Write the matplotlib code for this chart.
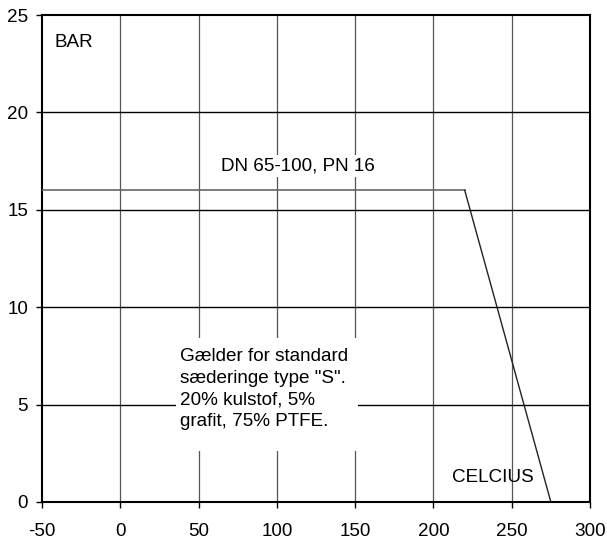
import matplotlib
matplotlib.use("Agg")
import matplotlib.pyplot as plt
from matplotlib.patches import Rectangle

plt.rcParams['font.family'] = ['Liberation Sans', 'DejaVu Sans']
plt.rcParams['axes.unicode_minus'] = False

temps = [-50, 220, 275]
pressure = [16, 16, 0]
x_ticks = [-50, 0, 50, 100, 150, 200, 250, 300]
y_ticks = [0, 5, 10, 15, 20, 25]

fig = plt.figure(figsize=(6.07, 5.39), dpi=100)
ax = fig.add_axes([42/607, 1 - 502/539, (590-42)/607, (502-15)/539])
ax.set_xlim(-50, 300)
ax.set_ylim(0, 25)
ax.set_xticks(x_ticks)
ax.set_yticks(y_ticks)
for x in x_ticks[1:-1]:
    ax.axvline(x, color='#555555', lw=0.9, zorder=1)
for y in y_ticks[1:-1]:
    ax.axhline(y, color='black', lw=1.0, zorder=1)

ax.plot(temps[:2], pressure[:2], color='#666666', lw=1.2, zorder=3)
ax.plot(temps[1:], pressure[1:], color='#222222', lw=1.0, zorder=3)

for s in ax.spines.values():
    s.set_linewidth(1.5)
ax.tick_params(direction='out', length=4, width=1, labelsize=13.6)
ax.tick_params(axis='x', pad=11)
ax.tick_params(axis='y', pad=6)

fs = 13.6
ax.text(-42, 23.6, 'BAR', fontsize=fs, va='center', ha='left')
ax.text(64.5, 17.25, 'DN 65-100, PN 16', fontsize=fs, va='center', ha='left', zorder=4,
        bbox=dict(facecolor='white', edgecolor='none', pad=2))
ax.add_patch(Rectangle((35.6, 2.62), 116.2, 5.8, facecolor='white', edgecolor='none', zorder=2))
ax.text(38, 5.8, 'Gælder for standard\nsæderinge type "S".\n20% kulstof, 5%\ngrafit, 75% PTFE.',
        fontsize=fs, va='center', ha='left', linespacing=1.38, zorder=4)
ax.text(212, 1.28, 'CELCIUS', fontsize=fs, va='center', ha='left')

fig.savefig('out.png', dpi=100)
